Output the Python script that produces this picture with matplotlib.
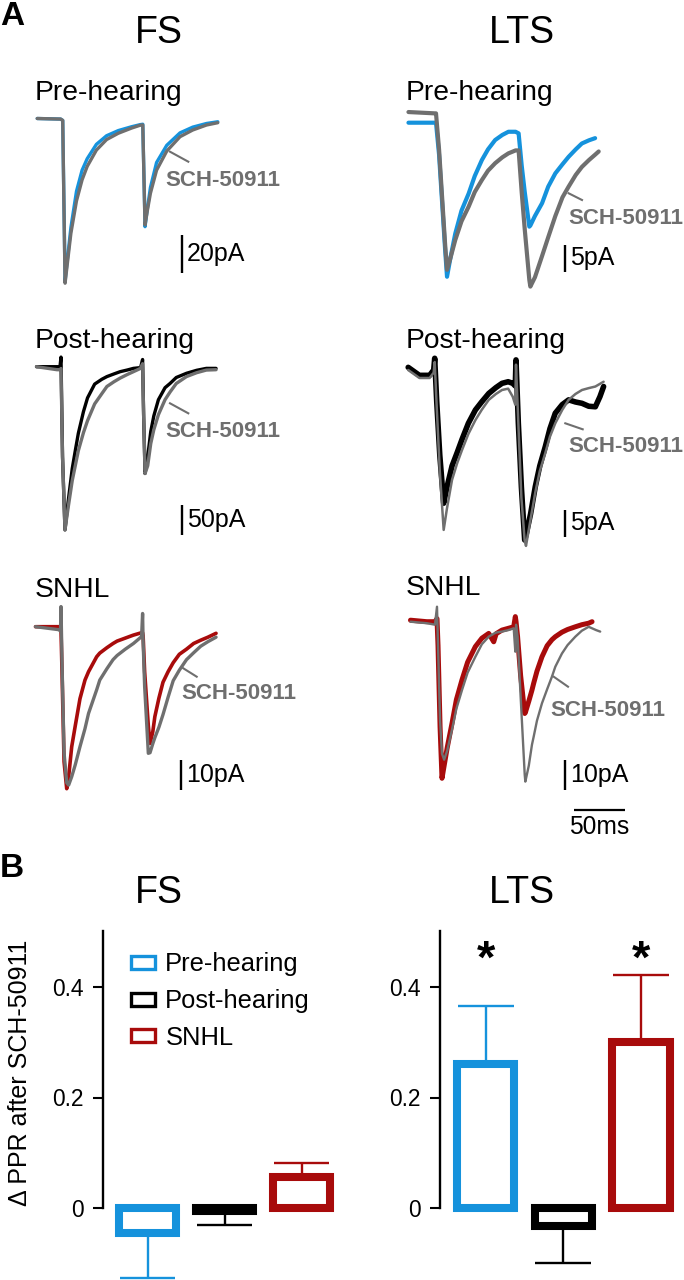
"""
Paired-pulse IPSCs in FS and LTS cells before/after SCH-50911 (A) and
the change in paired-pulse ratio per group (B).
"""

import numpy as np
import matplotlib
matplotlib.use('Agg')
import matplotlib.pyplot as plt
from matplotlib.patches import Patch

plt.rcParams['font.family'] = ['Liberation Sans', 'DejaVu Sans']

W, H, DPI = 684, 1280, 100
SX = 1.02  # px per ms (50 ms bar = 51 px)

BLUE = '#1592dc'
RED = '#a80b0b'
GRAY = '#6f6f6f'
BLACK = '#000000'
nan = np.nan

# ── Panel A traces: time in ms (0 = first stimulus), current in pA ────────────
T_FS_PRE = [-24, -1, 1, 3.3, 5.7, 9, 14.5, 20, 25, 34, 44, 55.5, 68.5, 77,
            79.5, 81.7, 84, 87, 93, 103, 116, 128.5, 142, 153]
FS_PRE_CTRL = [0, -0.3, -1, -85, -73, -57, -38, -27, -21, -13.5, -9, -6.3,
               -4.3, -3.2, -3, -56.5, -47, -36, -23, -14, -7.5, -4.5, -2.6, -1.7]
FS_PRE_SCH = [0, -0.3, -1, -86, -75, -60, -43, -32, -25, -16.5, -11, -7.7,
              -5, -3.5, -3.4, -55.6, -48, -39, -27, -17, -9.5, -6, -3.4, -2.2]

T_FS_POST = [-24, -4, -1, 0, 1.5, 3.9, 7, 11, 14, 17, 22, 26, 33, 40, 45, 52,
             58, 65, 71, 78, 80, 81, 82.4, 85, 88, 91, 95.5, 102, 107, 113,
             123, 133, 142.5, 152]
FS_POST_CTRL = [0, 0, 0, 16, -150, -272, -225, -170, -140, -111, -75, -52,
                -29, -21, -16.5, -12, -8.3, -5.5, -2.8, -1.5, 12, -80, -178,
                -150, -108, -82, -55, -35, -27.8, -18, -11, -6, -2.8, -2.8]
FS_POST_SCH = [0, -5, -5, -3, -150, -272, -235, -190, -165, -140, -110, -90,
               -62, -45, -33, -25, -19, -13, -8.3, -2.8, 5, -80, -178, -165,
               -128, -105, -80, -55, -42, -28, -16.5, -10, -5.6, -5]

T_FS_SNHL = [-25, -2, -0.5, 0, 1, 3, 5.6, 7.5, 10.5, 14, 18.6, 23.5, 27, 35,
             38, 45, 51, 55, 63, 71, 79, 80, 80.5, 82, 85.6, 87.3, 90, 92, 96,
             100, 105, 110, 116, 123, 130, 137, 144, 152]
FS_SNHL_CTRL = [0, 0, -0.5, -1, -15, -45, -54, -50, -40, -33, -24, -17.8,
                -15, -10, -8.8, -7, -5.6, -4.8, -3.8, -2.8, -2, -2, -3, -15,
                -33, -38.9, -35, -30, -23.8, -18.5, -15, -12, -9.2, -7.5,
                -5.6, -4.5, -3.5, -2.2]
FS_SNHL_SCH = [0, -1, -1.5, 6.7, -12, -42, -52, -52.8, -50, -46, -40, -34,
               -28.9, -21, -17.8, -14, -11, -9.6, -7.5, -5.6, -3.3, 4.4, -5,
               -20, -42.2, -42, -39, -37, -33.5, -29.3, -23.5, -18, -14.5, -11,
               -8.7, -6.5, -5, -3.5]

T_LTS_PRE = [-27, -1, 0, 3, 6, 9, 10.8, 14, 18.9, 25, 32, 38, 45, 51, 58, 65,
             71, 78, 81, 84, 87, 91.5, 92.5, 97, 104, 110, 117, 124, 130, 137,
             143, 150, 156, 159.5]
LTS_PRE_CTRL = [0, 0, 0, -6, -15, -24, -28.9, -25.5, -20.8, -16.5, -13.3,
                -10, -7, -5, -3.25, -2.3, -1.7, -1.7, -2, -8, -13, -19.5,
                -19.3, -17.5, -15.1, -12, -9.5, -7.8, -6.4, -5, -3.9, -3.3,
                -2.9, nan]
LTS_PRE_SCH = [2, 1.75, 1.75, -5, -14, -23, -27.6, -25.5, -22, -18.5, -15.75,
               -13, -10.75, -9, -7.6, -6.5, -5.75, -5.2, -5.2, -13, -20, -29.5,
               -30.75, -29, -25, -21.5, -17.5, -14, -12, -9.8, -8.3, -7, -6,
               -5.4]

T_LTS_POST = [-26, -15, -5, -1, 0, 2, 5, 8.8, 12, 17, 22, 26.8, 33, 39.9, 46,
              53, 60, 66, 72, 76.5, 79, 79.7, 82, 85, 88.2, 89.5, 94, 98.6,
              103, 108.4, 113, 118.2, 125, 131.3, 138, 144.4, 151, 157.5, 162,
              165.6]
LTS_POST_CTRL = [0.5, -1, -1, 0, 2.2, -6, -16, -25, -22, -18, -15.5, -13,
                 -10, -7.5, -6, -4.4, -3.3, -2.5, -2.2, -2.5, -3, 1.9, -10,
                 -22, -31.9, -31, -27, -21.9, -18, -14.4, -11, -8.1, -6.5,
                 -5.6, -6, -6.25, -6.8, -6.9, -5, -3.1]
LTS_POST_SCH = [0, -1.5, -1.5, -0.5, 1.5, -7, -19, -30, -26, -20.6, -17.5,
                -15, -12, -9.4, -7.5, -5.6, -4.5, -3.75, -3.5, -5, -6.5, 1,
                -10, -24, -32, -33, -28, -23, -19, -15.6, -12.5, -10, -7.5,
                -5.6, -4.5, -3.75, -3.4, -3.1, -2.6, -2.2]

T_LTS_SNHL = [-26, -10, -2, 0, 1, 3, 4.9, 7, 10, 14.7, 19, 24.5, 30, 37.6, 44,
              50.7, 55.6, 58, 63.7, 70, 75.2, 76.8, 77.5, 79, 82, 86, 86.6,
              90, 93.1, 94.8, 98, 102.9, 108, 112.7, 116, 122.5, 128, 135.6,
              142, 148.7, 152, 156, 160]
LTS_SNHL_CTRL = [0.5, 0, 0, 1, -8, -35, -52.2, -48, -42, -33.9, -26, -19.4,
                 -13.5, -8.3, -5.5, -3.9, -6.7, -4, -2.8, -2.2, -1.7, 1.7, 0,
                 -5, -18, -30.6, -30.3, -26.5, -22.8, -20.5, -16.5, -11.7, -8,
                 -6, -5, -3.5, -2.6, -1.7, -1, -0.5, 0, nan, nan]
LTS_SNHL_SCH = [0, -0.5, -1, 5, -8, -33, -44, -46, -43, -36, -29, -22.8, -17,
                -11.7, -7.5, -5, -4, -3.6, -3.3, -2.8, -2.2, -10, -1, -5, -25,
                -51, -53.3, -48, -41, -38.3, -33, -27.2, -22.5, -18.3, -15,
                -10.6, -7.8, -5, -3, -1.7, -2.2, -2.8, -3.3]

# ── Panel B: change in paired-pulse ratio after SCH-50911 ─────────────────────
GROUPS = ['Pre-hearing', 'Post-hearing', 'SNHL']
GROUP_COLOURS = [BLUE, BLACK, RED]
FS_MEAN = [-0.044, -0.005, 0.057]
FS_SEM = [0.081, 0.026, 0.025]
LTS_MEAN = [0.26, -0.032, 0.30]
LTS_SEM = [0.105, 0.066, 0.121]
LTS_SIG = [True, False, True]


def px_axes(fig, left, top, right, bottom):
    """Axes placed by pixel box (origin top-left)."""
    return fig.add_axes([left / W, 1 - bottom / H,
                         (right - left) / W, (bottom - top) / H])


fig = plt.figure(figsize=(W / DPI, H / DPI), dpi=DPI)
bg = px_axes(fig, 0, 0, W, H)
bg.set_xlim(0, W)
bg.set_ylim(H, 0)
bg.axis('off')

# panel letters and column titles
bg.text(0, 25, 'A', fontsize=24, fontweight='bold', va='baseline')
bg.text(0, 877, 'B', fontsize=24, fontweight='bold', va='baseline')
for yb in (43, 903):
    bg.text(159, yb, 'FS', fontsize=27, ha='center', va='baseline')
    bg.text(522, yb, 'LTS', fontsize=27, ha='center', va='baseline')

# ── Panel A ──────────────────────────────────────────────────────────────────
# (t, ctrl, sch, colour, box, stim x px, baseline y px, px per pA,
#  bar x px, bar top px, bar pA, row label, label xy, SCH text xy, pointer,
#  line widths)
panels = [
    (T_FS_PRE, FS_PRE_CTRL, FS_PRE_SCH, BLUE, (0, 90, 342, 330), 61.7, 118.5,
     1.915, 181.7, 235, 20, 'Pre-hearing', (35, 100), (165.7, 180),
     (170, 151.7, 188.3, 161.7), (2.4, 2.4)),
    (T_FS_POST, FS_POST_CTRL, FS_POST_SCH, BLACK, (0, 330, 342, 580), 61,
     366.7, 0.6, 181.7, 505, 50, 'Post-hearing', (35, 348), (165.7, 431.7),
     (170, 403.3, 188.3, 413.3), (2.4, 2.4)),
    (T_FS_SNHL, FS_SNHL_CTRL, FS_SNHL_SCH, RED, (0, 585, 342, 860), 61, 626.7,
     3.0, 181, 760, 10, 'SNHL', (35, 597), (181.7, 693.3),
     (183.3, 668.3, 196.7, 676.7), (2.6, 2.4)),
    (T_LTS_PRE, LTS_PRE_CTRL, LTS_PRE_SCH, BLUE, (342, 90, 684, 330), 436,
     122.7, 5.33, 564.7, 245, 5, 'Pre-hearing', (406, 100), (568.7, 218.3),
     (568.7, 193.3, 582, 200), (3.0, 3.0)),
    (T_LTS_POST, LTS_POST_CTRL, LTS_POST_SCH, BLACK, (342, 330, 684, 580),
     434.7, 370, 5.33, 564.7, 510, 5, 'Post-hearing', (406, 348),
     (568, 446.7), (565.3, 423.3, 582.7, 429.3), (4.0, 1.8)),
    (T_LTS_SNHL, LTS_SNHL_CTRL, LTS_SNHL_SCH, RED, (342, 585, 684, 860), 437,
     621.7, 3.0, 564.7, 760, 10, 'SNHL', (406, 595), (550.3, 710),
     (553.7, 676.7, 568, 686.7), (3.6, 1.7)),
]

for (t, ctrl, sch, col, box, xs, yb, sy, bx, btop, bval, row, lxy, sxy,
     ptr, lws) in panels:
    l, tp, r, b = box
    ax = px_axes(fig, l, tp, r, b)
    ax.axis('off')
    ax.set_xlim((l - xs) / SX, (r - xs) / SX)
    ax.set_ylim((yb - b) / sy, (yb - tp) / sy)
    ax.plot(t, ctrl, color=col, lw=lws[0], solid_joinstyle='round',
            solid_capstyle='round')
    ax.plot(t, sch, color=GRAY, lw=lws[1], solid_joinstyle='round',
            solid_capstyle='round')

    # current scale bar
    tb = (bx - xs) / SX
    itop = (yb - btop) / sy
    ax.plot([tb, tb], [itop, itop - bval], color='k', lw=1.7,
            solid_capstyle='butt')
    ax.text(tb + 5 / SX, itop - bval / 2, f'{bval}pA', fontsize=18,
            ha='left', va='center')

    bg.text(lxy[0], lxy[1], row, fontsize=20.3, ha='left', va='baseline')
    bg.text(sxy[0], sxy[1], 'SCH-50911', fontsize=16, fontweight='bold',
            color=GRAY, ha='left', va='center')
    bg.plot([ptr[0], ptr[2]], [ptr[1], ptr[3]], color=GRAY, lw=1.5)

    if row == 'SNHL' and l > 300:
        # 50 ms time bar below the last LTS trace
        t0 = (573.7 - xs) / SX
        ybar = (yb - 810) / sy
        ax.plot([t0, t0 + 50], [ybar, ybar], color='k', lw=1.6,
                solid_capstyle='butt')
        ax.text(t0 + 25, (yb - 827) / sy, '50ms', fontsize=17.7,
                ha='center', va='center')

# ── Panel B ──────────────────────────────────────────────────────────────────
ZERO_Y, PX_PER_UNIT, TOP, BOTTOM = 1208.3, 554.0, 900, 1280


def bar_axes(left, right, first_centre, spacing):
    ax = px_axes(fig, left, TOP, right, BOTTOM)
    ax.set_ylim((ZERO_Y - BOTTOM) / PX_PER_UNIT, (ZERO_Y - TOP) / PX_PER_UNIT)
    ax.set_xlim((left - first_centre) / spacing, (right - first_centre) / spacing)
    ax.patch.set_visible(False)
    for s in ('top', 'right', 'bottom'):
        ax.spines[s].set_visible(False)
    ax.spines['left'].set_linewidth(1.7)
    ax.spines['left'].set_bounds(0, 0.5)
    ax.set_xticks([])
    ax.set_yticks([0, 0.2, 0.4])
    ax.set_yticklabels(['0', '0.2', '0.4'])
    ax.tick_params(axis='y', length=7.2, width=1.5, labelsize=16.4, pad=7)
    return ax


def draw_bars(ax, means, sems):
    x = np.arange(len(means))
    ax.bar(x, means, width=0.74, facecolor='white', edgecolor=GROUP_COLOURS,
           linewidth=5.8, zorder=3)
    for xi, m, s, c in zip(x, means, sems, GROUP_COLOURS):
        end = m + s if m >= 0 else m - s
        ax.vlines(xi, m, end, color=c, lw=1.7, zorder=2)
        ax.hlines(end, xi - 0.36, xi + 0.36, color=c, lw=1.7, zorder=2)


ax_fs = bar_axes(103, 345, 147.5, 77.0)
draw_bars(ax_fs, FS_MEAN, FS_SEM)
ax_lts = bar_axes(440.3, 684, 485.7, 77.7)
draw_bars(ax_lts, LTS_MEAN, LTS_SEM)
for i, sig in enumerate(LTS_SIG):
    if sig:
        ax_lts.text(i, 0.447, '*', fontsize=34, fontweight='bold',
                    ha='center', va='center')

handles = [Patch(facecolor='white', edgecolor=c, linewidth=2.4)
           for c in GROUP_COLOURS]
ax_fs.legend(handles, GROUPS, loc='upper left', bbox_to_anchor=(0.115, 0.862),
             frameon=False, fontsize=18.4, handlelength=0.95,
             handleheight=0.4, handletextpad=0.4, labelspacing=0.5,
             borderpad=0, borderaxespad=0)

bg.text(20, 1073, '\u0394 PPR after SCH-50911', fontsize=18, rotation=90,
        ha='center', va='center')

fig.savefig('out.png', dpi=DPI)
